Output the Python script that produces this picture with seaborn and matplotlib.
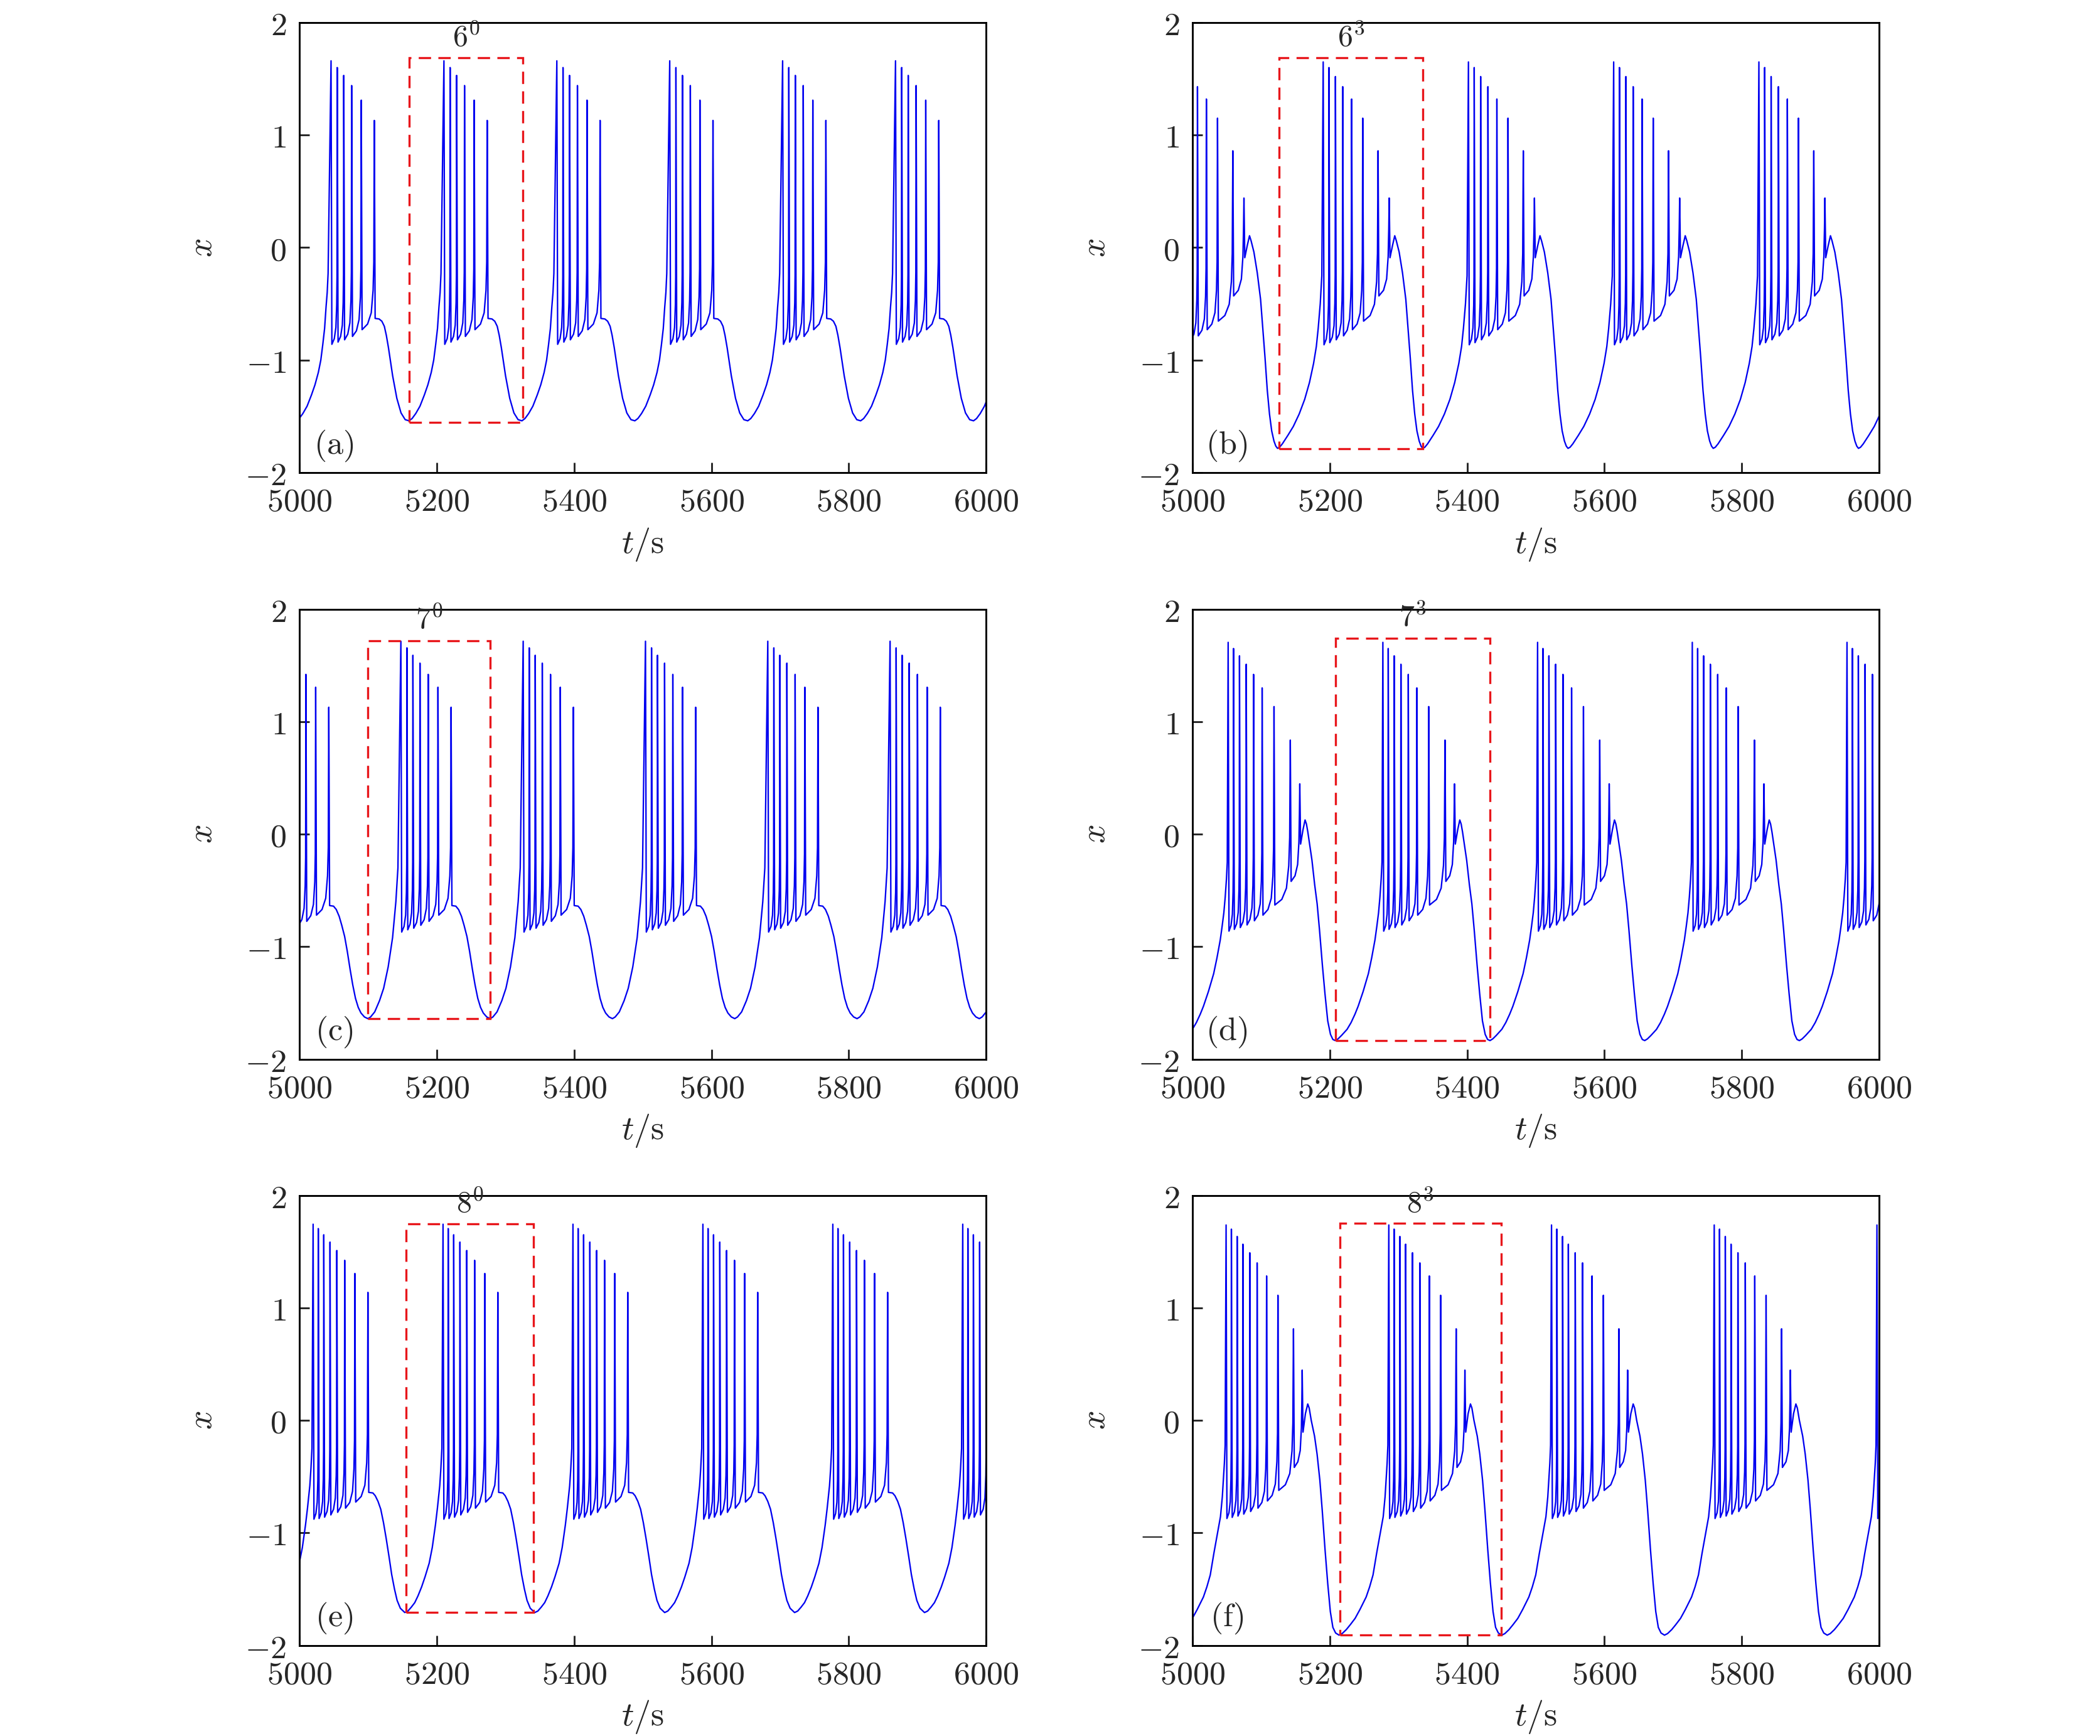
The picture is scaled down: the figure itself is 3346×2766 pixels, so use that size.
import numpy as np
import pandas as pd
import matplotlib
matplotlib.use("Agg")
import matplotlib.pyplot as plt
from matplotlib.patches import Rectangle
from matplotlib.ticker import FuncFormatter, MultipleLocator
import seaborn as sns

# ---------------- values ----------------
# each panel: burst onsets (time of 1st spike), spike offsets from onset,
# spike peaks, value right after each spike, then the slow wave
# (plateau / hump -> minimum -> rise) as offsets from onset.

# (a) 6^0
a_onsets = [4881.6, 5046.0, 5210.4, 5374.8, 5539.2, 5703.6, 5868.0]
a_spk_t = [0, 9, 18.5, 30, 44, 63]
a_spk_h = [1.66, 1.60, 1.53, 1.44, 1.31, 1.13]
a_spk_lo = [-0.86, -0.84, -0.82, -0.79, -0.73, -0.63]
a_slow_t = [70, 74, 77.6, 80.5, 83.6, 89.7, 95.8, 101.9, 108, 113.6, 118, 123.4,
            129.5, 135.9, 141, 145.9, 149.5, 152.4, 155, 157.1, 158.8, 160.1]
a_slow_x = [-0.635, -0.655, -0.70, -0.78, -0.89, -1.14, -1.34, -1.47, -1.53, -1.54,
            -1.52, -1.475, -1.41, -1.31, -1.22, -1.11, -1.00, -0.86, -0.72, -0.53,
            -0.40, -0.23]
a_box = [5159.6, 5325.6, -1.554, 1.69]

# (b) 6^3
b_onsets = [4979.0, 5190.5, 5402.0, 5613.5, 5825.0]
b_spk_t = [0, 8.4, 17.8, 28.4, 41.4, 57.6, 79.9, 96.1]
b_spk_h = [1.65, 1.60, 1.52, 1.43, 1.32, 1.15, 0.86, 0.44]
b_spk_lo = [-0.864, -0.845, -0.82, -0.785, -0.73, -0.654, -0.43, -0.09]
b_slow_t = [101, 104.2, 106.5, 110.6, 115.5, 120.3, 123.6, 126.8, 130.1, 133.3,
            136.5, 139.8, 142.5, 145, 148, 152, 160, 168, 176.5, 184.5, 191.5,
            197.5, 201.5, 204.2, 207.2, 209.5]
b_slow_x = [0.02, 0.105, 0.06, -0.04, -0.225, -0.46, -0.72, -0.98, -1.27, -1.48,
            -1.63, -1.72, -1.765, -1.785, -1.775, -1.745, -1.67, -1.59, -1.48, -1.35,
            -1.20, -1.03, -0.88, -0.72, -0.50, -0.25]
b_box = [5126.5, 5335.9, -1.79, 1.69]

# (c) 7^0
c_onsets = [4969.6, 5147.7, 5325.8, 5503.9, 5682.0, 5860.1]
c_spk_t = [0, 8.8, 17.5, 27.8, 39.8, 54, 73.1]
c_spk_h = [1.715, 1.656, 1.59, 1.52, 1.42, 1.306, 1.128]
c_spk_lo = [-0.87, -0.85, -0.836, -0.81, -0.775, -0.72, -0.635]
c_slow_t = [80, 84, 88.2, 92, 96.2, 100, 104.1, 108, 112, 116, 120, 125, 130,
            134, 140, 147, 153, 159.6, 166, 170.8, 173.8]
c_slow_x = [-0.64, -0.67, -0.73, -0.81, -0.91, -1.04, -1.20, -1.34, -1.46, -1.54,
            -1.59, -1.625, -1.64, -1.625, -1.58, -1.48, -1.37, -1.18, -0.92, -0.60,
            -0.30]
c_box = [5099.3, 5278.0, -1.64, 1.72]

# (d) 7^3
d_onsets = [4826.8, 5052.1, 5277.4, 5502.7, 5728.0, 5953.3]
d_spk_t = [0, 7.8, 16.5, 26.3, 37, 49.5, 66.8, 90.5, 104.3]
d_spk_h = [1.705, 1.65, 1.585, 1.51, 1.42, 1.30, 1.134, 0.836, 0.447]
d_spk_lo = [-0.862, -0.846, -0.83, -0.807, -0.77, -0.72, -0.63, -0.42, -0.088]
d_slow_t = [109, 112, 114, 116, 122, 126, 129.6, 133, 137.3, 141, 145, 149, 152.5,
            156, 160, 165, 173.2, 179, 184.7, 189.3, 196.5, 204.2, 209, 213.8,
            216.5, 219, 221, 222.8, 224]
d_slow_x = [0.04, 0.126, 0.09, 0.02, -0.23, -0.45, -0.62, -0.85, -1.17, -1.42,
            -1.66, -1.78, -1.825, -1.835, -1.82, -1.79, -1.735, -1.675, -1.60, -1.53,
            -1.40, -1.24, -1.10, -0.94, -0.82, -0.70, -0.56, -0.40, -0.25]
d_box = [5208.6, 5433.3, -1.835, 1.74]

# (e) 8^0
e_onsets = [4830.7, 5019.9, 5209.1, 5398.3, 5587.5, 5776.7, 5965.9]
e_spk_t = [0, 7.5, 15.5, 24.6, 34.5, 46, 60.8, 79.8]
e_spk_h = [1.744, 1.705, 1.65, 1.585, 1.51, 1.423, 1.306, 1.138]
e_spk_lo = [-0.878, -0.872, -0.86, -0.84, -0.817, -0.78, -0.726, -0.64]
e_slow_t = [87, 90.5, 94.5, 98.5, 102.5, 106.4, 110.5, 114.4, 118.5, 122.3, 127,
            133.5, 138, 143, 148, 152.7, 158, 163, 169, 173.5, 178.1, 181, 184.4,
            186, 187.5]
e_slow_x = [-0.645, -0.67, -0.72, -0.79, -0.91, -1.05, -1.21, -1.37, -1.50, -1.60,
            -1.67, -1.708, -1.695, -1.66, -1.62, -1.56, -1.48, -1.39, -1.27, -1.13,
            -0.93, -0.78, -0.58, -0.43, -0.25]
e_box = [5154.9, 5340.7, -1.708, 1.747]

# (f) 8^3
f_onsets = [4812.1, 5049.1, 5286.05, 5523.0, 5759.95, 5996.9]
f_spk_t = [0, 7.7, 16.1, 24.5, 34.5, 45.2, 59, 75.5, 98.1, 110.8]
f_spk_h = [1.737, 1.70, 1.635, 1.566, 1.49, 1.40, 1.284, 1.112, 0.814, 0.447]
f_spk_lo = [-0.872, -0.862, -0.85, -0.833, -0.81, -0.78, -0.716, -0.622, -0.418, -0.104]
f_slow_t = [115.5, 118.9, 121, 124, 128.8, 132.5, 136.5, 140, 144.1, 148, 151.8,
            155.5, 159.5, 164.5, 169, 175, 181, 187.85, 195, 203.95, 209, 213.95,
            219.25, 224, 228.8, 231.5, 233.05, 234.5, 235.6]
f_slow_x = [0.06, 0.146, 0.11, 0.0, -0.14, -0.30, -0.53, -0.80, -1.15, -1.45, -1.70,
            -1.84, -1.89, -1.909, -1.895, -1.86, -1.815, -1.76, -1.68, -1.57, -1.48,
            -1.374, -1.18, -1.02, -0.856, -0.68, -0.53, -0.38, -0.22]
f_box = [5214.7, 5449.4, -1.909, 1.75]

tags = [r"$6^0$", r"$6^3$", r"$7^0$", r"$7^3$", r"$8^0$", r"$8^3$"]
letters = ["(a)", "(b)", "(c)", "(d)", "(e)", "(f)"]

# shape of the slow climb between two spikes (fraction of gap, lift above trough)
rise_f = [0.45, 0.75, 0.9, 0.96]
rise_dx = [0.05, 0.15, 0.35, 0.6]


def one_cycle(spk_t, spk_h, spk_lo, slow_t, slow_x):
    t, x = [], []
    for i in range(len(spk_t)):
        t += [spk_t[i], spk_t[i] + 1.2]
        x += [spk_h[i], spk_lo[i]]
        if i < len(spk_t) - 1:
            t0 = spk_t[i] + 1.2
            gap = spk_t[i + 1] - t0
            for f, dx in zip(rise_f, rise_dx):
                t.append(t0 + f * gap)
                x.append(spk_lo[i] + dx)
    return t + list(slow_t), x + list(slow_x)


def series(onsets, spk_t, spk_h, spk_lo, slow_t, slow_x):
    ct, cx = one_cycle(spk_t, spk_h, spk_lo, slow_t, slow_x)
    tt, xx = [], []
    for on in onsets:
        tt += [on + v for v in ct]
        xx += cx
    return pd.DataFrame({"t": tt, "x": xx})


panels = [
    series(a_onsets, a_spk_t, a_spk_h, a_spk_lo, a_slow_t, a_slow_x),
    series(b_onsets, b_spk_t, b_spk_h, b_spk_lo, b_slow_t, b_slow_x),
    series(c_onsets, c_spk_t, c_spk_h, c_spk_lo, c_slow_t, c_slow_x),
    series(d_onsets, d_spk_t, d_spk_h, d_spk_lo, d_slow_t, d_slow_x),
    series(e_onsets, e_spk_t, e_spk_h, e_spk_lo, e_slow_t, e_slow_x),
    series(f_onsets, f_spk_t, f_spk_h, f_spk_lo, f_slow_t, f_slow_x),
]
boxes = [a_box, b_box, c_box, d_box, e_box, f_box]

# ---------------- style ----------------
sns.set_theme(style="ticks")
plt.rcParams["font.family"] = ["DejaVu Serif"]
plt.rcParams["mathtext.fontset"] = "cm"
plt.rcParams["axes.linewidth"] = 0.7

fig = plt.figure(figsize=(3346 / 300, 2766 / 300), dpi=300)
lefts = [0.1426, 0.5678]
bottoms = [0.7278, 0.3899, 0.0522]
W, H = 0.3270, 0.2592

fmt = FuncFormatter(lambda v, p: f"${v:.0f}$")

for k, df in enumerate(panels):
    row, col = divmod(k, 2)
    ax = fig.add_axes([lefts[col], bottoms[row], W, H])
    sns.lineplot(data=df, x="t", y="x", ax=ax, sort=False, estimator=None,
                 color="#0000f0", lw=0.55)

    t0, t1, y0, y1 = boxes[k]
    ax.add_patch(Rectangle((t0, y0), t1 - t0, y1 - y0, fill=False,
                           edgecolor="#e8161b", lw=0.8, ls=(0, (5.9, 3.5)),
                           zorder=3))
    ax.text((t0 + t1) / 2, y1 + 0.05, tags[k], ha="center", va="bottom",
            fontsize=11.5)
    ax.text(0.05, 0.06, r"$\mathrm{" + letters[k] + "}$", transform=ax.transAxes,
            ha="center", va="center", fontsize=12.5)

    ax.set_xlim(5000, 6000)
    ax.set_ylim(-2, 2)
    ax.xaxis.set_major_locator(MultipleLocator(200))
    ax.yaxis.set_major_locator(MultipleLocator(1))
    ax.xaxis.set_major_formatter(fmt)
    ax.yaxis.set_major_formatter(fmt)
    ax.tick_params(direction="in", length=3.8, width=0.7, top=False, right=False,
                   labelsize=12.5, pad=5)
    ax.set_xlabel(r"$t/\mathrm{s}$", fontsize=13)
    ax.set_ylabel(r"$x$", fontsize=13, rotation=90)
    ax.xaxis.set_label_coords(0.5, -0.118)
    ax.yaxis.set_label_coords(-0.118, 0.5)
    for s in ax.spines.values():
        s.set_visible(True)
        s.set_linewidth(0.7)
        s.set_color("black")

fig.savefig("out.png", dpi=300)
